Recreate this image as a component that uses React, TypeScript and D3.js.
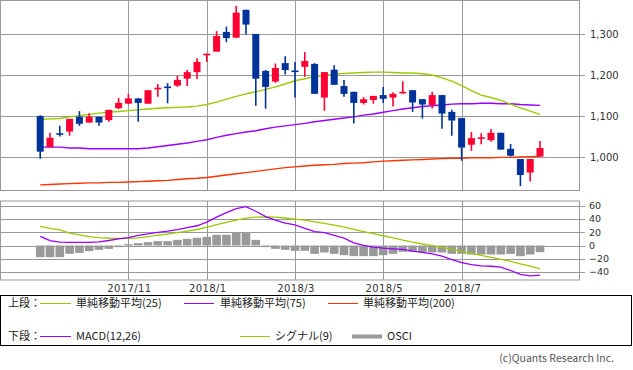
import React from "react";
import * as d3 from "d3";

// weekly candles, 2017/9 - 2018/8
const open = [1100, 1024, 1058, 1062, 1098, 1084, 1098, 1090, 1119, 1130, 1143, 1130, 1167, 1172, 1174, 1191, 1207, 1248, 1257, 1305, 1291, 1359, 1300, 1210, 1184, 1229, 1211, 1220, 1227, 1145, 1213, 1173, 1159, 1132, 1139, 1151, 1145, 1157, 1163, 1141, 1127, 1151, 1110, 1095, 1030, 1046, 1041, 1059, 1020, 995, 962, 1001];
const high = [1102, 1059, 1076, 1093, 1112, 1107, 1098, 1115, 1144, 1154, 1143, 1163, 1178, 1180, 1198, 1212, 1241, 1252, 1307, 1318, 1368, 1359, 1300, 1212, 1228, 1246, 1232, 1256, 1229, 1207, 1224, 1188, 1159, 1146, 1149, 1171, 1158, 1185, 1163, 1141, 1159, 1151, 1115, 1095, 1061, 1058, 1068, 1059, 1032, 995, 995, 1039];
const low = [996, 1024, 1050, 1052, 1076, 1084, 1076, 1086, 1117, 1129, 1086, 1130, 1147, 1131, 1171, 1173, 1190, 1232, 1257, 1280, 1291, 1299, 1125, 1118, 1181, 1201, 1145, 1196, 1154, 1113, 1176, 1147, 1082, 1128, 1130, 1132, 1123, 1154, 1110, 1094, 1118, 1069, 1052, 991, 1015, 1031, 1037, 1018, 1001, 929, 940, 1001];
const close = [1013, 1047, 1054, 1093, 1081, 1098, 1084, 1115, 1132, 1143, 1132, 1163, 1169, 1168, 1188, 1207, 1232, 1252, 1295, 1290, 1352, 1323, 1191, 1171, 1217, 1212, 1209, 1234, 1154, 1207, 1176, 1154, 1132, 1141, 1149, 1142, 1154, 1159, 1133, 1128, 1151, 1106, 1089, 1023, 1046, 1048, 1059, 1018, 1003, 956, 995, 1022];

const ma25 = [1092, 1093, 1094, 1098, 1101, 1104, 1107, 1109, 1111, 1113, 1115, 1117, 1119, 1120, 1121, 1122, 1124, 1128, 1134, 1141, 1148, 1154, 1159, 1165, 1171, 1178, 1186, 1191, 1196, 1199, 1202, 1204, 1205, 1206, 1207, 1207, 1206, 1205, 1205, 1203, 1200, 1193, 1185, 1174, 1162, 1151, 1145, 1138, 1129, 1120, 1112, 1104];
const ma75 = [1024, 1024, 1024, 1022, 1022, 1020, 1020, 1020, 1020, 1020, 1020, 1022, 1025, 1028, 1031, 1034, 1038, 1042, 1048, 1053, 1057, 1061, 1064, 1069, 1073, 1076, 1079, 1082, 1086, 1089, 1092, 1095, 1098, 1102, 1105, 1109, 1113, 1117, 1120, 1123, 1125, 1127, 1129, 1130, 1130, 1131, 1131, 1130, 1130, 1128, 1127, 1126];
const ma200 = [932, 933, 934, 935, 936, 937, 937, 938, 938, 939, 940, 941, 942, 943, 945, 947, 948, 950, 953, 956, 959, 962, 965, 968, 971, 974, 976, 978, 980, 981, 982, 984, 985, 986, 988, 990, 991, 992, 993, 994, 995, 996, 997, 997, 998, 998, 998, 999, 999, 1000, 1001, 1002];

const macd = [14, 7.4, 5, 4.8, 4.8, 4.8, 5.5, 7.6, 10.2, 12, 15.5, 17.7, 20, 21.8, 24, 27, 30, 35.5, 43, 50, 56, 59, 52, 44, 38.5, 34, 31.2, 26.1, 21, 19.5, 15.5, 11.3, 4, 0.3, -2.5, -4, -5, -6, -8.5, -10.5, -12.8, -16, -21.5, -26, -29, -30.8, -31.5, -33, -38, -44, -46, -45];
const signal = [29.2, 26.1, 23.6, 18.8, 16.2, 13.5, 12, 11, 10.9, 10.9, 11.5, 13.5, 15.6, 17.3, 19.6, 21.8, 24.3, 28, 31.7, 35, 38.5, 41.5, 43, 43.3, 43, 41.8, 40, 38.5, 36, 33.5, 30.8, 28, 24.5, 21.2, 18, 14.8, 11.5, 8.2, 5, 2.3, -0.3, -3, -5.8, -8.8, -12, -15, -18, -21, -24, -28, -31.5, -35.5];
const osci = [-17.7, -17.7, -17.7, -12.7, -11.2, -8.6, -6.6, -5.1, -2.5, 2, 3.5, 5.1, 6.6, 6.6, 8.6, 10.1, 11.7, 13.2, 16.2, 16.2, 19.8, 19.8, 8.6, -2.5, -5.1, -6.6, -8.1, -8.1, -12.7, -10.6, -12.7, -14.7, -16.2, -16.2, -16.2, -14.7, -12.7, -9.6, -9.6, -10.6, -10.6, -10.6, -12.7, -12.7, -13.7, -13.7, -13.7, -13.7, -12.7, -16.2, -13.7, -10.1];

const monthLabels = ["2017/11", "2018/1", "2018/3", "2018/5", "2018/7"];
const monthIndex = [9, 17, 26, 35, 43];
const priceTicks = [1000, 1100, 1200, 1300];
const macdTicks = [-40, -20, 0, 20, 40, 60];

const upColor = "#FF0033";
const downColor = "#003399";
const c25 = "#99CC00";
const c75 = "#9900FF";
const c200 = "#FF3300";
const gridColor = "#999999";
const numFont = "DejaVu Sans";
const jpFont = "'Noto Sans CJK JP', sans-serif";

const px = (v: number) => Math.round(v) + 0.5;

export default function App() {
  const n = close.length;
  const x = d3.scaleLinear().domain([0, n - 1]).range([40.2, 540]);
  const yP = d3.scaleLinear().domain([1000, 1300]).range([157, 34]);
  const yM = d3.scaleLinear().domain([0, 60]).range([245.5, 206]);
  const idx = d3.range(n);

  const line = (arr: number[], y: d3.ScaleLinear<number, number>) =>
    d3.line<number>().x((d, i) => x(i)).y(d => y(d))(arr) || "";

  const fmt = d3.format(",");
  const bodyW = 7;
  const barW = 8.6;

  return (
    <svg width={633} height={370} style={{ position: "absolute", left: 0, top: 0, background: "#fff" }}>
      {/* upper panel grid */}
      {priceTicks.map(t => (
        <g key={"pt" + t}>
          <line x1={1} x2={585} y1={px(yP(t))} y2={px(yP(t))} stroke={gridColor} />
          <text x={590} y={yP(t)} dy="0.35em" fontFamily={numFont} fontSize={10} fill="#333">{fmt(t)}</text>
        </g>
      ))}
      {monthIndex.map((m, i) => (
        <g key={"mg" + i}>
          <line x1={px(x(m))} x2={px(x(m))} y1={1} y2={190} stroke={gridColor} />
          <line x1={px(x(m))} x2={px(x(m))} y1={201} y2={280} stroke={gridColor} />
          <text x={x(m) + 1} y={292} textAnchor="middle" fontFamily={numFont} fontSize={10} letterSpacing={0.4} fill="#333">{monthLabels[i]}</text>
        </g>
      ))}
      <rect x={0.5} y={0.5} width={579} height={190} fill="none" stroke={gridColor} />

      {/* moving averages */}
      <path d={line(ma200, yP)} fill="none" stroke={c200} strokeWidth={1.4} />
      <path d={line(ma75, yP)} fill="none" stroke={c75} strokeWidth={1.4} />
      <path d={line(ma25, yP)} fill="none" stroke={c25} strokeWidth={1.4} />

      {/* candles */}
      {idx.map(i => {
        const up = close[i] >= open[i];
        const col = up ? upColor : downColor;
        const top = yP(Math.max(open[i], close[i]));
        const bot = yP(Math.min(open[i], close[i]));
        return (
          <g key={"c" + i}>
            <line x1={x(i)} x2={x(i)} y1={yP(high[i])} y2={yP(low[i])} stroke={col} strokeWidth={1.6} />
            <rect x={x(i) - bodyW / 2} y={top} width={bodyW} height={Math.max(bot - top, 1.6)} fill={col} />
          </g>
        );
      })}

      {/* lower panel */}
      {macdTicks.map(t => (
        <g key={"mt" + t}>
          <line x1={1} x2={585} y1={px(yM(t))} y2={px(yM(t))} stroke={gridColor} />
          <text x={589} y={yM(t)} dy="0.35em" fontFamily={numFont} fontSize={9.5} fill="#333">{d3.format("")(t)}</text>
        </g>
      ))}
      <rect x={0.5} y={201} width={579} height={79} fill="none" stroke={gridColor} />
      {idx.map(i => (
        <rect key={"o" + i} x={x(i) - barW / 2} y={Math.min(yM(osci[i]), yM(0))} width={barW}
          height={Math.abs(yM(osci[i]) - yM(0))} fill="#999999" />
      ))}
      <path d={line(signal, yM)} fill="none" stroke={c25} strokeWidth={1.3} />
      <path d={line(macd, yM)} fill="none" stroke={c75} strokeWidth={1.3} />

      {/* legend */}
      <rect x={0.5} y={295.5} width={631} height={50} fill="none" stroke="#000" />
      <g fontFamily={jpFont} fontSize={11} fill="#222">
        <text x={8} y={303} dy="0.35em">上段：</text>
        <line x1={40} x2={71} y1={303.5} y2={303.5} stroke={c25} />
        <text x={76} y={303} dy="0.35em">単純移動平均(25)</text>
        <line x1={184} x2={214} y1={303.5} y2={303.5} stroke={c75} />
        <text x={220} y={303} dy="0.35em">単純移動平均(75)</text>
        <line x1={328} x2={358} y1={303.5} y2={303.5} stroke={c200} />
        <text x={363} y={303} dy="0.35em">単純移動平均(200)</text>

        <text x={8} y={336.5} dy="0.35em">下段：</text>
        <line x1={40} x2={71} y1={336.5} y2={336.5} stroke={c75} />
        <text x={76} y={336.5} dy="0.35em">MACD(12,26)</text>
        <line x1={240} x2={270} y1={336.5} y2={336.5} stroke={c25} />
        <text x={275} y={336.5} dy="0.35em">シグナル(9)</text>
        <line x1={352} x2={382} y1={336.5} y2={336.5} stroke="#999999" strokeWidth={4} />
        <text x={387} y={336.5} dy="0.35em">OSCI</text>
      </g>
      <text x={614} y={358} dy="0.35em" textAnchor="end" fontFamily={jpFont} fontSize={10.5} fill="#555">(c)Quants Research Inc.</text>
    </svg>
  );
}
